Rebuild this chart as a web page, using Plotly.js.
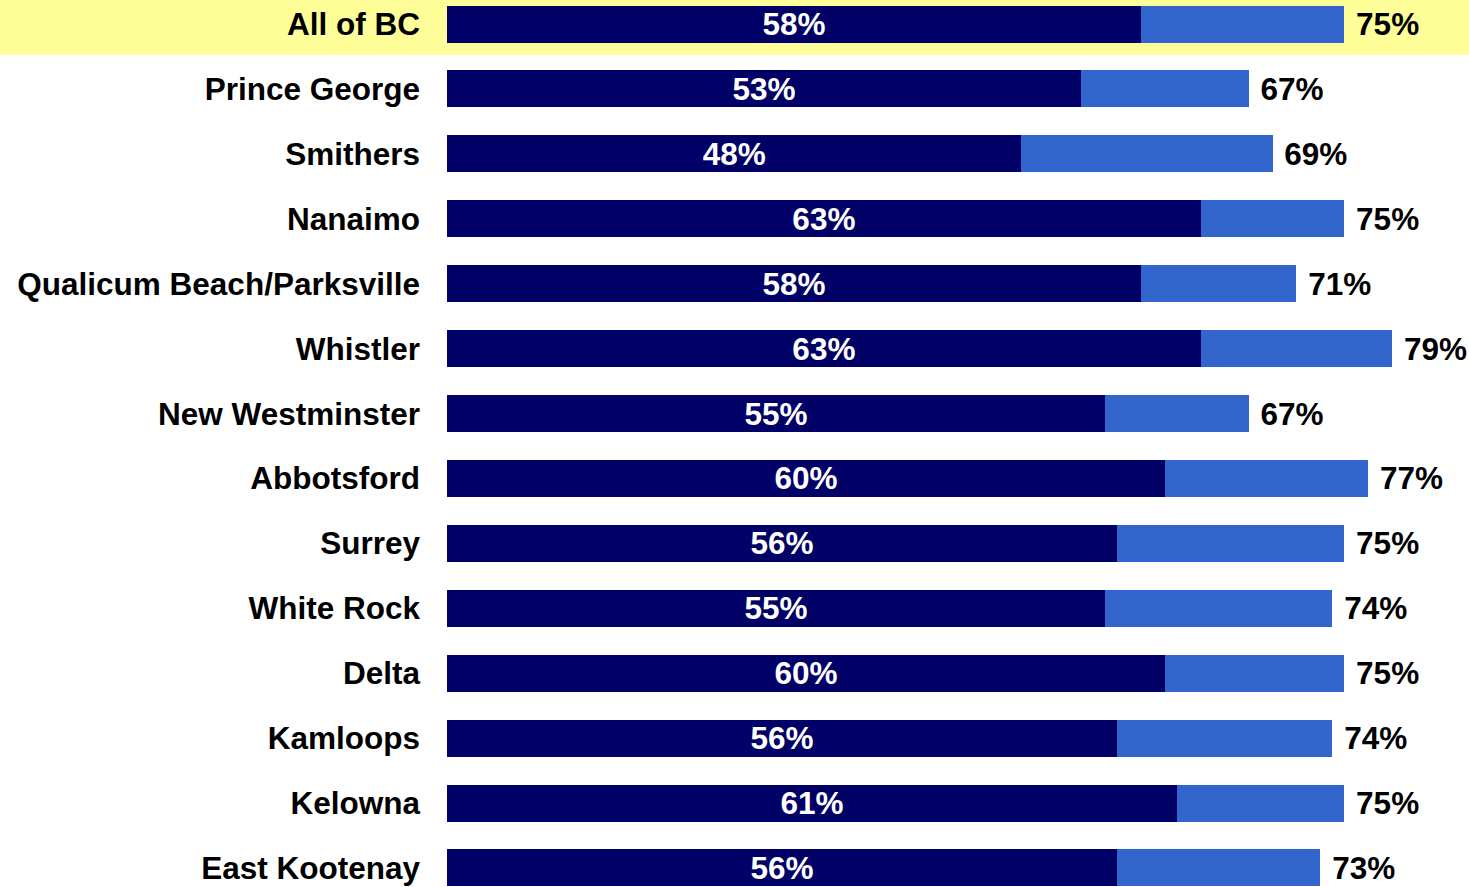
<!DOCTYPE html>
<html>
<head>
<meta charset="utf-8">
<script src="https://cdn.plot.ly/plotly-3.0.1.min.js"></script>
<style>
html,body{margin:0;padding:0;background:#fff;}
#chart{width:1469px;height:887px;}
</style>
</head>
<body>
<div id="chart"></div>
<script>
const categories = ["All of BC","Prince George","Smithers","Nanaimo","Qualicum Beach/Parksville","Whistler","New Westminster","Abbotsford","Surrey","White Rock","Delta","Kamloops","Kelowna","East Kootenay"];
const firstValues = [58,53,48,63,58,63,55,60,56,55,60,56,61,56];
const totalValues = [75,67,69,75,71,79,67,77,75,74,75,74,75,73];

const remainder = totalValues.map((t,i) => t - firstValues[i]);
const FONT = "Liberation Sans, Arial, Helvetica, sans-serif";
const FS = 31.5;

const traces = [
  {
    type: "bar", orientation: "h",
    y: categories, x: firstValues,
    marker: {color: "#000066"},
    width: 0.57,
    texttemplate: "%{x}%",
    textposition: "inside",
    insidetextanchor: "middle",
    constraintext: "none",
    insidetextfont: {family: FONT, size: FS, color: "#ffffff", weight: "bold"},
    hoverinfo: "skip"
  },
  {
    type: "bar", orientation: "h",
    y: categories, x: remainder,
    text: totalValues,
    marker: {color: "#3366CC"},
    width: 0.57,
    texttemplate: " %{text}%",
    textposition: "outside",
    constraintext: "none",
    cliponaxis: false,
    outsidetextfont: {family: FONT, size: FS, color: "#000000", weight: "bold"},
    hoverinfo: "skip"
  }
];

const layout = {
  width: 1469, height: 887,
  margin: {l: 447, r: 5, t: 0, b: 0, pad: 0},
  barmode: "stack",
  showlegend: false,
  paper_bgcolor: "#ffffff",
  plot_bgcolor: "rgba(0,0,0,0)",
  xaxis: {range: [0, 85], visible: false, fixedrange: true},
  yaxis: {
    type: "category",
    range: [13.293, -0.370],
    autorange: false,
    showgrid: false, zeroline: false, showline: false,
    ticks: "", ticklabelstandoff: 26,
    tickfont: {family: FONT, size: FS, color: "#000000", weight: "bold"}
  },
  shapes: [{
    type: "rect", xref: "paper", yref: "paper",
    x0: -0.5, x1: 1.2, y0: 1 - 55/887, y1: 1.05,
    fillcolor: "#FFFF99", line: {width: 0}, layer: "below"
  }]
};

Plotly.newPlot("chart", traces, layout, {displayModeBar: false, staticPlot: true});
</script>
</body>
</html>
